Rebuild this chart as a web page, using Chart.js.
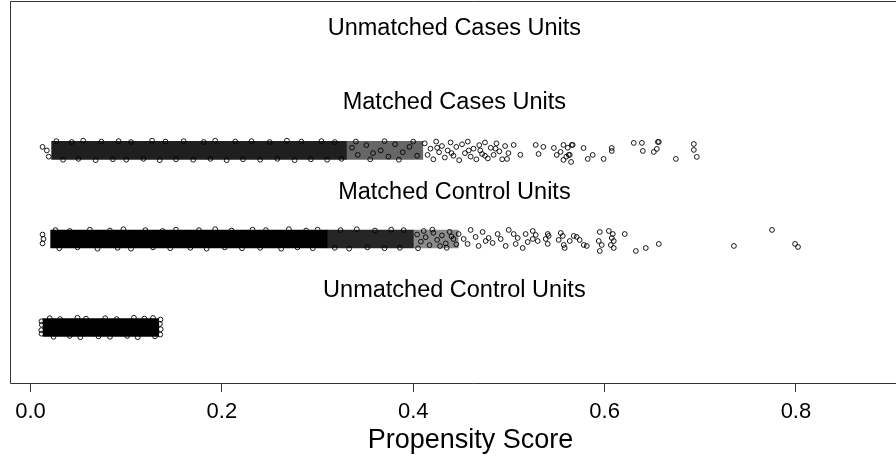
<!DOCTYPE html>
<html>
<head>
<meta charset="utf-8">
<script src="https://cdn.jsdelivr.net/npm/chart.js@4.4.0/dist/chart.umd.min.js"></script>
<style>
  html, body { margin: 0; padding: 0; background: #fff; overflow: hidden; }
</style>
</head>
<body>
<canvas id="jitter" width="936" height="463"></canvas>
<script>
// groups, bottom to top (y level 1..4)
const groupNames = ['Unmatched Control Units', 'Matched Control Units', 'Matched Cases Units', 'Unmatched Cases Units'];
const groupLevels = [1, 2, 3, 4];
const labelLevels = [1.42, 2.52, 3.54, 4.38];
const xTicks = [0.0, 0.2, 0.4, 0.6, 0.8];

// dense, fully overplotted stretches of each group: [from, to] propensity score
const unmatchedControlDense = [[0.013, 0.134]];
const matchedControlDense = [[0.021, 0.31], [0.31, 0.40], [0.40, 0.447]];
const matchedCasesDense = [[0.022, 0.33], [0.33, 0.41]];

// individual points [score, jittered level]
const unmatchedControlPts = [
  [0.0115, 0.93], [0.0112, 0.97], [0.0118, 1.03], [0.0114, 1.07],
  [0.1355, 0.92], [0.136, 0.98], [0.1352, 1.04], [0.1358, 1.09],
  [0.02, 1.105], [0.031, 1.095], [0.049, 1.11], [0.058, 1.1], [0.078, 1.105], [0.09, 1.095], [0.108, 1.11], [0.119, 1.1], [0.128, 1.108],
  [0.024, 0.895], [0.041, 0.905], [0.052, 0.89], [0.071, 0.9], [0.083, 0.895], [0.101, 0.905], [0.112, 0.89], [0.13, 0.9]
];

const matchedControlPts = [
  [0.0125, 2.05], [0.0135, 2.0], [0.0125, 1.95],
  [0.026, 2.1], [0.041, 2.09], [0.062, 2.105], [0.083, 2.095], [0.097, 2.11], [0.12, 2.1], [0.138, 2.09], [0.152, 2.105], [0.176, 2.1], [0.193, 2.11],
  [0.21, 2.095], [0.232, 2.105], [0.246, 2.1], [0.27, 2.11], [0.288, 2.095], [0.30, 2.105], [0.324, 2.1], [0.341, 2.11], [0.36, 2.095], [0.377, 2.105], [0.39, 2.1], [0.42, 2.105],
  [0.03, 1.895], [0.049, 1.905], [0.07, 1.89], [0.091, 1.9], [0.105, 1.89], [0.128, 1.905], [0.146, 1.895], [0.167, 1.9], [0.184, 1.89], [0.203, 1.905],
  [0.221, 1.895], [0.24, 1.9], [0.262, 1.89], [0.279, 1.905], [0.295, 1.895], [0.318, 1.9], [0.333, 1.89], [0.352, 1.905], [0.37, 1.895], [0.386, 1.9], [0.405, 1.895], [0.435, 1.9],
  [0.404, 2.05], [0.408, 1.97], [0.413, 2.02], [0.417, 1.93], [0.421, 2.07], [0.425, 1.99], [0.43, 2.04], [0.434, 1.95],
  [0.438, 2.08], [0.442, 2.0], [0.445, 1.94], [0.411, 2.09], [0.428, 1.92], [0.44, 2.03],
  [0.4474, 2.056], [0.4527, 2.0], [0.4568, 1.944], [0.46, 2.102], [0.4652, 2.023], [0.4683, 1.921], [0.4725, 2.079], [0.4757, 1.977],
  [0.4788, 2.011], [0.483, 1.955], [0.4882, 2.056], [0.4914, 2.0], [0.4966, 1.921], [0.4998, 2.102],
  [0.505, 2.056], [0.5092, 2.011], [0.5071, 1.944], [0.5144, 1.898], [0.5175, 2.056], [0.5196, 1.966],
  [0.5249, 2.09], [0.528, 2.045], [0.5249, 2.0], [0.5301, 1.977],
  [0.5406, 2.056], [0.5416, 2.034], [0.5385, 2.0], [0.5406, 1.944],
  [0.5542, 2.068], [0.5563, 2.034], [0.552, 1.989], [0.5573, 1.932], [0.5583, 1.898],
  [0.5636, 1.977], [0.5678, 2.034], [0.5709, 2.023], [0.574, 1.989], [0.5782, 1.932], [0.5814, 1.921],
  [0.595, 2.079], [0.5939, 1.977], [0.597, 1.932], [0.595, 1.864],
  [0.6044, 2.09], [0.6086, 2.056], [0.6075, 2.011], [0.6096, 1.977], [0.6065, 1.932], [0.6096, 1.898],
  [0.6211, 2.056], [0.6327, 1.864], [0.6431, 1.898], [0.6567, 1.944],
  [0.7352, 1.921], [0.775, 2.102], [0.7991, 1.944], [0.8022, 1.91]
];

const matchedCasesPts = [
  [0.0125, 3.04], [0.017, 3.0], [0.019, 2.93],
  [0.027, 3.105], [0.043, 3.095], [0.055, 3.11], [0.074, 3.1], [0.092, 3.105], [0.105, 3.095], [0.127, 3.11], [0.141, 3.1], [0.16, 3.105], [0.181, 3.095],
  [0.193, 3.11], [0.214, 3.1], [0.231, 3.105], [0.25, 3.095], [0.268, 3.11], [0.283, 3.1], [0.304, 3.105], [0.318, 3.095], [0.34, 3.1], [0.37, 3.105], [0.40, 3.1],
  [0.034, 2.895], [0.05, 2.905], [0.068, 2.89], [0.086, 2.9], [0.1, 2.895], [0.118, 2.905], [0.135, 2.89], [0.152, 2.9], [0.17, 2.895], [0.188, 2.905],
  [0.205, 2.89], [0.222, 2.9], [0.24, 2.895], [0.258, 2.905], [0.276, 2.89], [0.293, 2.9], [0.31, 2.895], [0.325, 2.905], [0.355, 2.9], [0.385, 2.895],
  [0.336, 3.03], [0.342, 2.95], [0.351, 3.06], [0.358, 2.97], [0.366, 3.0], [0.374, 2.93], [0.381, 3.07], [0.389, 2.98], [0.396, 3.04], [0.404, 2.94],
  [0.412, 3.08], [0.415, 2.95], [0.418, 3.02], [0.421, 2.9], [0.424, 3.1], [0.427, 2.98], [0.43, 3.05], [0.433, 2.92],
  [0.436, 3.0], [0.439, 3.09], [0.442, 2.94], [0.445, 3.04], [0.448, 2.89], [0.451, 3.07], [0.454, 2.97], [0.457, 3.1],
  [0.46, 2.93], [0.463, 3.02], [0.466, 2.9], [0.469, 3.06], [0.472, 2.96], [0.475, 3.09], [0.478, 2.91], [0.481, 3.03],
  [0.484, 2.95], [0.487, 3.08], [0.49, 2.99], [0.493, 2.9], [0.496, 3.05], [0.4995, 2.97], [0.47, 3.0], [0.458, 3.0],
  [0.44, 2.97], [0.425, 3.03], [0.486, 3.02], [0.475, 2.94],
  [0.498, 2.904], [0.505, 3.062], [0.512, 2.951], [0.528, 3.062], [0.531, 2.96], [0.536, 3.04],
  [0.547, 3.028], [0.55, 2.949], [0.554, 2.983], [0.557, 3.062], [0.557, 2.893], [0.56, 2.93],
  [0.5615, 3.03], [0.5625, 2.95], [0.5636, 2.95], [0.5657, 3.062], [0.5667, 3.062], [0.565, 2.87],
  [0.578, 3.028], [0.5824, 2.904], [0.5876, 2.949], [0.599, 2.904], [0.6075, 3.028], [0.6075, 2.994],
  [0.6305, 3.085], [0.639, 3.085], [0.64, 2.994], [0.6515, 2.983], [0.6546, 3.017], [0.6557, 3.096], [0.6567, 3.096],
  [0.6745, 2.904], [0.6933, 3.073], [0.6933, 3.006], [0.6964, 2.927]
];
const unmatchedCasesPts = [];

const FONT = '"Liberation Sans", Arial, sans-serif';

const dense = [
  { ranges: unmatchedControlDense, level: groupLevels[0], shades: ['#000'] },
  { ranges: matchedControlDense, level: groupLevels[1], shades: ['#000', 'rgba(0,0,0,0.85)', 'rgba(0,0,0,0.45)'] },
  { ranges: matchedCasesDense, level: groupLevels[2], shades: ['rgba(0,0,0,0.88)', 'rgba(0,0,0,0.6)'] }
];

const barSets = dense.map(d => ({
  type: 'bar',
  indexAxis: 'y',
  grouped: false,
  barThickness: 18,
  borderWidth: 0,
  backgroundColor: d.shades,
  order: 2,
  data: d.ranges.map(r => ({ x: r, y: d.level }))
}));

const pointSets = [unmatchedControlPts, matchedControlPts, matchedCasesPts, unmatchedCasesPts].map(pts => ({
  type: 'scatter',
  pointStyle: 'circle',
  pointRadius: 2.4,
  borderWidth: 0.9,
  borderColor: '#000',
  backgroundColor: 'rgba(0,0,0,0)',
  order: 1,
  data: pts.map(p => ({ x: p[0], y: p[1] }))
}));

const boxAndLabels = {
  id: 'boxAndLabels',
  afterDatasetsDraw(chart) {
    const { ctx, chartArea: a, scales } = chart;
    const top = Math.max(a.top - 3.5, 1.5);
    ctx.save();
    ctx.strokeStyle = '#333';
    ctx.lineWidth = 1;
    ctx.beginPath();
    ctx.moveTo(a.right + 10, top);
    ctx.lineTo(a.left + 0.5, top);
    ctx.lineTo(a.left + 0.5, a.bottom + 0.5);
    ctx.lineTo(a.right + 10, a.bottom + 0.5);
    ctx.stroke();

    ctx.fillStyle = '#000';
    ctx.font = '23.5px ' + FONT;
    ctx.textAlign = 'center';
    ctx.textBaseline = 'middle';
    const cx = scales.x.getPixelForValue(0.443);
    groupNames.forEach((name, i) => {
      ctx.fillText(name, cx, scales.y.getPixelForValue(labelLevels[i]));
    });
    ctx.restore();
  }
};

new Chart(document.getElementById('jitter'), {
  type: 'scatter',
  data: { datasets: [...barSets, ...pointSets] },
  plugins: [boxAndLabels],
  options: {
    responsive: false,
    animation: false,
    layout: { padding: { left: 10, top: 0, right: 0, bottom: 0 } },
    plugins: { legend: { display: false }, tooltip: { enabled: false } },
    scales: {
      x: {
        type: 'linear',
        min: -0.0215,
        max: 0.9413,
        offset: false,
        afterBuildTicks: s => { s.ticks = xTicks.map(v => ({ value: v })); },
        afterFit: s => { s.height = 80; },
        grid: { drawOnChartArea: false, drawTicks: true, tickLength: 9, color: '#333', offset: false },
        border: { display: false },
        ticks: {
          color: '#000',
          padding: 7,
          maxRotation: 0,
          autoSkip: false,
          font: { family: FONT, size: 22 },
          callback: v => Number(v).toFixed(1)
        },
        title: {
          display: true,
          text: 'Propensity Score',
          color: '#000',
          font: { family: FONT, size: 27 },
          padding: { top: 0, bottom: 6 }
        }
      },
      y: {
        type: 'linear',
        display: false,
        offset: false,
        grid: { offset: false },
        min: 0.373,
        max: 4.644
      }
    }
  }
});
</script>
</body>
</html>
